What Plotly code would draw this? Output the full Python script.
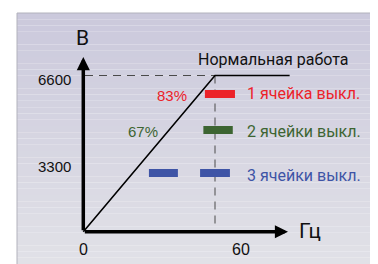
import plotly.graph_objects as go

# ---- data ----
freq = [0, 60, 94]            # Гц
volt = [0, 6600, 6600]        # В
v_nominal = 6600
f_nominal = 60
x_ticks = [0, 60]
x_tick_labels = ["0", "60"]
y_tick_labels = ["6600", "3300"]

cell_labels = ["1 ячейка выкл.", "2 ячейки выкл.", "3 ячейки выкл."]
cell_colors = ["#ec2229", "#3d6532", "#3e54a6"]
cell_levels = [5818, 4297, 2480]
cell_segments = [[(55.4, 69.1)], [(54.7, 68.1)], [(29.9, 43.1), (53.2, 66.8)]]
pct_labels = ["83%", "67%"]

# ---- page-pixel mapping (page has an 8px body margin) ----
OFF = 8
PW, PH = 378, 264
W, H = PW - OFF, PH - OFF
x0px, kx = 83.3, 131.7 / 60.0
y0px, ky = 231.7, 156.2 / 6600.0
def fx(px): return (px - x0px) / kx
def fy(py): return (y0px - py) / ky
def paper_x(px): return (px - OFF) / W
def paper_y(py): return 1 - (py - OFF) / H

fig = go.Figure()

# background panel with vertical gradient
shapes = []
top_c = (0xcb, 0xc9, 0xdc)
bot_c = (0xe1, 0xe1, 0xe7)
ptop, pbot, pleft, pright = 13, 264, 17, 371
n = 40
for i in range(n):
    t = i / (n - 1)
    c = tuple(int(round(top_c[j] + (bot_c[j] - top_c[j]) * t)) for j in range(3))
    ya = ptop + (pbot - ptop) * i / n
    yb = ptop + (pbot - ptop) * (i + 1) / n
    shapes.append(dict(type="rect", xref="paper", yref="paper",
                       x0=paper_x(pleft), x1=paper_x(pright), y0=paper_y(yb), y1=paper_y(ya),
                       line=dict(width=0), fillcolor="rgb(%d,%d,%d)" % c, layer="below"))
shapes.append(dict(type="rect", xref="paper", yref="paper",
                   x0=paper_x(pleft), x1=paper_x(pright), y0=paper_y(pbot) - 0.02, y1=paper_y(ptop),
                   line=dict(width=1, color="#b2b2bc"), fillcolor="rgba(0,0,0,0)", layer="below"))
fig.update_layout(shapes=shapes)

# dashed reference lines
fig.add_trace(go.Scatter(x=[fx(85), f_nominal], y=[v_nominal, v_nominal], mode="lines",
                         line=dict(color="#4a4a4a", width=1, dash="8px,6px"), hoverinfo="skip"))
fig.add_trace(go.Scatter(x=[f_nominal, f_nominal], y=[v_nominal, fy(225)], mode="lines",
                         line=dict(color="#4a4a4a", width=1, dash="8px,6px"), hoverinfo="skip"))

# V/f characteristic
fig.add_trace(go.Scatter(x=freq, y=volt, mode="lines",
                         line=dict(color="#000000", width=1.6), hoverinfo="skip"))

# cell-off levels
for lvl, segs, col in zip(cell_levels, cell_segments, cell_colors):
    for a, b in segs:
        fig.add_trace(go.Scatter(x=[a, b], y=[lvl, lvl], mode="lines",
                                 line=dict(color=col, width=8), hoverinfo="skip"))

ann = []
# axes with arrows
ann.append(dict(x=0, y=fy(57), ax=0, ay=0, xref="x", yref="y", axref="x", ayref="y",
                showarrow=True, arrowhead=2, arrowwidth=3.5, arrowsize=0.75, arrowcolor="#000", text=""))
ann.append(dict(x=fx(288), y=0, ax=0, ay=0, xref="x", yref="y", axref="x", ayref="y",
                showarrow=True, arrowhead=2, arrowwidth=3.5, arrowsize=0.75, arrowcolor="#000", text=""))

tick_font = dict(family="Liberation Sans, Arial, sans-serif", size=15, color="#111")
ann.append(dict(x=fx(73), y=fy(79.5), text=y_tick_labels[0], showarrow=False,
                xanchor="right", yanchor="middle", font=tick_font))
ann.append(dict(x=fx(73), y=fy(166.5), text=y_tick_labels[1], showarrow=False,
                xanchor="right", yanchor="middle", font=tick_font))
ann.append(dict(x=x_ticks[0], y=fy(249), text=x_tick_labels[0], showarrow=False,
                xanchor="center", yanchor="middle", font=dict(tick_font, size=16)))
ann.append(dict(x=fx(241), y=fy(249), text=x_tick_labels[1], showarrow=False,
                xanchor="center", yanchor="middle", font=dict(tick_font, size=16)))

big_font = dict(family="Roboto, sans-serif", size=21, color="#111")
ann.append(dict(x=fx(82), y=fy(38), text="В", showarrow=False,
                xanchor="center", yanchor="middle", font=big_font))
ann.append(dict(x=fx(297), y=fy(231), text="Гц", showarrow=False,
                xanchor="left", yanchor="middle", font=big_font))

ann.append(dict(x=fx(196), y=fy(59), text="Нормальная работа", showarrow=False,
                xanchor="left", yanchor="middle",
                font=dict(family="Roboto, sans-serif", size=16, color="#111")))

label_px_y = [93.5, 131.5, 175]
for lab, col, py in zip(cell_labels, cell_colors, label_px_y):
    ann.append(dict(x=fx(245), y=fy(py), text=lab, showarrow=False,
                    xanchor="left", yanchor="middle",
                    font=dict(family="Roboto, sans-serif", size=16, color=col)))

ann.append(dict(x=fx(171.7), y=fy(95.5), text=pct_labels[0], showarrow=False,
                xanchor="center", yanchor="middle",
                font=dict(family="Liberation Sans, Arial, sans-serif", size=15, color=cell_colors[0])))
ann.append(dict(x=fx(142.5), y=fy(131.5), text=pct_labels[1], showarrow=False,
                xanchor="center", yanchor="middle",
                font=dict(family="Liberation Sans, Arial, sans-serif", size=15, color=cell_colors[1])))

fig.update_layout(
    annotations=ann,
    width=W, height=H,
    margin=dict(l=0, r=0, t=0, b=0),
    paper_bgcolor="white", plot_bgcolor="rgba(0,0,0,0)",
    showlegend=False,
    xaxis=dict(range=[fx(OFF), fx(PW)], visible=False, fixedrange=True),
    yaxis=dict(range=[fy(PH), fy(OFF)], visible=False, fixedrange=True),
)

fig.write_html("out.html", config={"displayModeBar": False})
